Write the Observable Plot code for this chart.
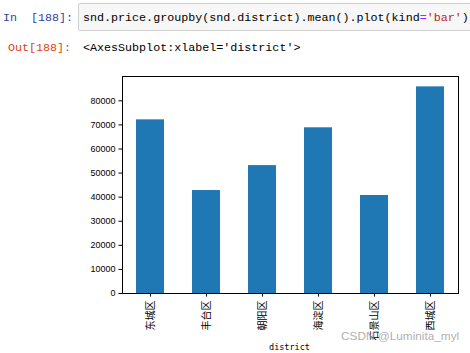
<!DOCTYPE html>
<html>
<head>
<meta charset="utf-8">
<script src="https://cdn.jsdelivr.net/npm/d3@7"></script>
<script src="https://cdn.jsdelivr.net/npm/@observablehq/plot@0.6"></script>
<style>
  html, body { margin:0; padding:0; background:#fff; width:470px; height:353px; overflow:hidden; position:relative; }
  .mono { font-family: "Liberation Mono", "DejaVu Sans Mono", monospace; font-size:11.7px; white-space:pre; position:absolute; }
  #inPrompt { left:3px; top:11px; color:#303F9F; }
  #codebox { position:absolute; left:78px; top:3px; width:400px; height:28px; background:#f7f7f7; border:1px solid #cfcfcf; border-radius:2px; box-sizing:border-box; }
  #code { left:83px; top:11px; color:#000; }
  #outPrompt { left:8px; top:41px; color:#D84315; }
  #outText { left:83px; top:41px; color:#000; }
  #chart { position:absolute; left:0; top:60px; }
  #xlabel { position:absolute; left:0; width:579px; text-align:center; top:342px; font-family:"DejaVu Sans Mono", monospace; font-size:8.5px; color:#000; }
  #wm { position:absolute; left:341px; top:329px; font-family:"Liberation Sans", Arial, sans-serif; font-size:11.8px; color:rgba(160,160,160,0.85); white-space:nowrap; }
</style>
</head>
<body>
<div id="codebox"></div>
<div class="mono" id="inPrompt">In  [188]:</div>
<div class="mono" id="code">snd.price.groupby(snd.district).mean().plot(kind<span style="color:#AA22FF">=</span><span style="color:#BA2121">'bar'</span>)</div>
<div class="mono" id="outPrompt">Out[188]:</div>
<div class="mono" id="outText">&lt;AxesSubplot:xlabel='district'&gt;</div>
<div id="chart"></div>
<div id="xlabel">district</div>
<div id="wm">CSDN @Luminita_myl</div>
<script>
const districts = ["东城区", "丰台区", "朝阳区", "海淀区", "石景山区", "西城区"];
const prices = [72100, 42750, 53100, 68800, 40700, 85800];
const yTicks = [0, 10000, 20000, 30000, 40000, 50000, 60000, 70000, 80000];
const yMax = 90100;

const data = districts.map((d, i) => ({district: d, price: prices[i]}));

const chart = Plot.plot({
  width: 470,
  height: 293,
  marginTop: 16,
  marginBottom: 60,
  marginLeft: 122,
  marginRight: 12,
  style: { fontFamily: "Liberation Sans, Arial, sans-serif", fontSize: "9px", color: "#000", background: "transparent" },
  x: { domain: districts, paddingInner: 0.5, paddingOuter: 0.25, label: null },
  y: { domain: [0, yMax], label: null },
  marks: [
    Plot.barY(data, { x: "district", y: "price", fill: "#1f77b4" }),
    Plot.frame({ stroke: "#000", strokeWidth: 1 }),
    Plot.axisY({ ticks: yTicks, tickSize: 3.5, tickPadding: 3.5, tickFormat: d3.format("d"), label: null, fontSize: 9 }),
    Plot.axisX({ tickRotate: -90, tickSize: 3.5, tickPadding: 3.5, label: null, fontSize: 10, fontFamily: "Noto Sans CJK SC" })
  ]
});
document.getElementById("chart").appendChild(chart);
</script>
</body>
</html>
